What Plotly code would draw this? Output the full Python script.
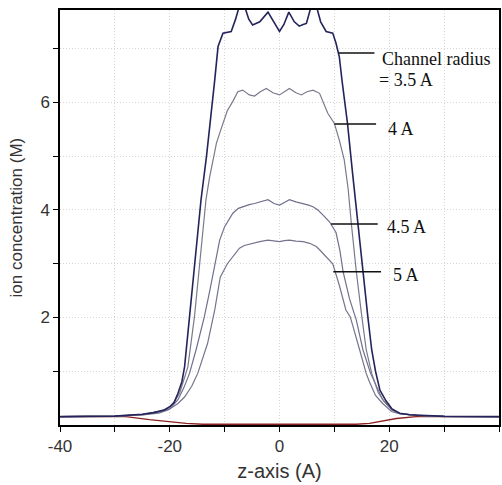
import plotly.graph_objects as go

# ---- data ----
x_35 = [-40, -30, -25, -23, -21, -20, -19.2, -18.5, -17.8, -17.3, -16.4, -15.5, -14.3, -13.3, -12.4,
        -11.8, -11.2, -10.3, -8.8, -8.0, -7.3, -6.85, -6.4, -5.6, -4.9, -4.3, -3.6, -2.1, -1.0, 0,
        0.8, 1.7, 2.7, 3.6, 4.3, 4.9, 5.8, 6.25, 6.7, 7.5, 8.5, 9.7, 10.3, 10.9, 11.4, 12.4, 13.3,
        14.3, 15.1, 16.1, 16.8, 17.5, 18.3, 19.4, 20.5, 21.9, 23.7, 27.5, 30, 40]
y_35 = [0.155, 0.165, 0.2, 0.23, 0.28, 0.34, 0.42, 0.59, 0.8, 1.08, 2.01, 2.94, 4.19, 5.0, 5.8,
        6.42, 7.04, 7.29, 7.32, 7.55, 7.8, 7.85, 7.8, 7.55, 7.44, 7.47, 7.5, 7.68, 7.48, 7.32,
        7.45, 7.68, 7.5, 7.42, 7.45, 7.47, 7.8, 7.85, 7.8, 7.5, 7.32, 7.29, 7.1, 6.85, 6.4, 5.6, 4.7,
        3.74, 2.85, 2.01, 1.4, 1.0, 0.65, 0.45, 0.3, 0.22, 0.19, 0.165, 0.16, 0.155]

x_40 = [-40, -30, -25, -22, -20.5, -19.5, -18.2, -17.5, -16.7, -15.5, -14.6, -13.4, -12.75, -11.5,
        -10.9, -9.5, -8.5, -7.6, -6.7, -5.5, -4.55, -3.5, -2.4, -1.2, 0, 0.9, 1.8, 3.0, 4.0, 5.0,
        6.1, 7.3, 8.8, 10.0, 10.9, 11.8, 12.5, 13.1, 14.0, 14.9, 15.8, 16.8, 18.0, 19.0, 20.5, 22,
        25, 30, 40]
y_40 = [0.155, 0.165, 0.2, 0.25, 0.3, 0.38, 0.59, 0.8, 1.08, 2.01, 2.94, 4.19, 4.6, 5.24,
        5.43, 5.85, 6.02, 6.2, 6.23, 6.14, 6.12, 6.2, 6.26, 6.18, 6.14, 6.2, 6.26, 6.18, 6.14, 6.2,
        6.23, 6.17, 5.8, 5.61, 5.3, 4.93, 4.4, 3.74, 2.85, 2.1, 1.4, 0.96, 0.6, 0.45, 0.28, 0.21,
        0.18, 0.16, 0.155]

x_45 = [-40, -30, -25, -22, -20, -18.5, -17.4, -16.4, -15.2, -13.7, -12.7, -11.8, -10.9, -10, -8.5,
        -7.5, -6.7, -5.5, -4.55, -3.2, -2.1, -1.0, 0, 0.9, 1.8, 3.0, 4.3, 5.3, 6.1, 7.0, 7.9, 9.1,
        10.3, 11.0, 11.6, 12.75, 14.0, 15.2, 16.6, 18.8, 20.5, 22, 25, 30, 40]
y_45 = [0.155, 0.165, 0.19, 0.24, 0.3, 0.47, 0.7, 0.96, 1.4, 2.01, 2.5, 2.94, 3.44, 3.69, 3.94,
        4.03, 4.06, 4.1, 4.12, 4.16, 4.19, 4.12, 4.09, 4.14, 4.19, 4.15, 4.12, 4.09, 4.06, 4.0, 3.91, 3.78,
        3.58, 3.25, 2.85, 2.35, 1.95, 1.4, 0.96, 0.47, 0.28, 0.21, 0.18, 0.16, 0.155]

x_50 = [-40, -30, -25, -22, -20.3, -19.5, -18.5, -17.3, -16, -14.9, -13.1, -11.8, -10.8, -9.5,
        -8.3, -7.3, -6.4, -5.0, -3.6, -2.1, -1.0, 0, 0.9, 1.8, 3.0, 4.3, 5.5, 6.7, 7.3, 8.5, 9.7,
        10.0, 10.9, 12.1, 12.9, 14.6, 15.8, 16.4, 17.5, 18.8, 20.4, 21.8, 25, 30, 40]
y_50 = [0.155, 0.165, 0.19, 0.22, 0.28, 0.33, 0.4, 0.52, 0.72, 0.96, 1.52, 2.14, 2.75, 3.0,
        3.17, 3.29, 3.34, 3.38, 3.41, 3.44, 3.42, 3.41, 3.43, 3.44, 3.42, 3.41, 3.38, 3.32, 3.26, 3.13, 3.0,
        2.9, 2.6, 2.14, 2.01, 1.4, 0.96, 0.8, 0.55, 0.4, 0.25, 0.21, 0.18, 0.16, 0.155]

x_red = [-40, -28, -23.7, -20, -17, -14, 0, 14, 16.4, 18.8, 21.3, 24.9, 40]
y_red = [0.155, 0.155, 0.1, 0.06, 0.03, 0.015, 0.01, 0.015, 0.03, 0.08, 0.12, 0.155, 0.155]

x_tickvals = [-40, -30, -20, -10, 0, 10, 20, 30, 40]
x_ticktext = ["-40", "", "-20", "", "0", "", "20", "", "40"]
y_tickvals = [1, 2, 3, 4, 5, 6, 7]
y_ticktext = ["", "2", "", "4", "", "6", ""]

labels = ["Channel radius", "= 3.5 A", "4 A", "4.5 A", "5 A"]
label_x = [18.95, 18.4, 19.9, 19.7, 20.95]
label_y = [6.81, 6.42, 5.51, 3.68, 2.79]
leader_x0 = [10.75, 10.0, 9.4, 9.8]
leader_x1 = [17.3, 17.6, 17.9, 18.5]
leader_y = [6.92, 5.6, 3.74, 2.85]

fig = go.Figure()
fig.add_trace(go.Scatter(x=x_red, y=y_red, mode="lines",
                         line=dict(color="#8b2020", width=1.4), showlegend=False))
for xs, ys, col, w in [(x_50, y_50, "#74748e", 1.2), (x_45, y_45, "#70708e", 1.2),
                       (x_40, y_40, "#7a7a8a", 1.2), (x_35, y_35, "#24245c", 1.6)]:
    fig.add_trace(go.Scatter(x=xs, y=ys, mode="lines", line=dict(color=col, width=w),
                             showlegend=False))

for x0, x1, yy in zip(leader_x0, leader_x1, leader_y):
    fig.add_shape(type="line", x0=x0, x1=x1, y0=yy, y1=yy, xref="x", yref="y",
                  line=dict(color="#111111", width=1.5))

for t, xx, yy in zip(labels, label_x, label_y):
    fig.add_annotation(x=xx, y=yy, text=t, showarrow=False, xanchor="left", yanchor="middle",
                       xshift=-3, font=dict(family="Liberation Serif", size=18, color="#111111"))

# y-axis title placed as rotated text left of the tick labels
fig.add_annotation(x=-0.098, y=0.5, xref="paper", yref="paper", text="ion concentration (M)",
                   textangle=-90, showarrow=False, xanchor="center", yanchor="middle",
                   font=dict(family="Liberation Sans", size=17, color="#333333"))

fig.update_layout(
    width=502, height=485,
    margin=dict(l=60, r=3, t=10, b=60, autoexpand=False),
    paper_bgcolor="white", plot_bgcolor="white",
    font=dict(family="Liberation Sans", size=17, color="#333333"),
)
fig.update_xaxes(range=[-40, 40], tickvals=x_tickvals, ticktext=x_ticktext,
                 showline=True, linecolor="black", linewidth=1.5, mirror=True,
                 ticks="outside", ticklen=5, tickcolor="black", automargin=False,
                 showgrid=True, gridcolor="#d6d6d6", griddash="1px,2px", gridwidth=1,
                 zeroline=False, title=dict(text="z-axis (A)", standoff=9),
                 tickfont=dict(size=17, color="#333333"))
fig.update_yaxes(range=[0, 7.72], tickvals=y_tickvals, ticktext=y_ticktext,
                 showline=True, linecolor="black", linewidth=1.5, mirror=True,
                 ticks="outside", ticklen=5, tickcolor="black", automargin=False,
                 showgrid=True, gridcolor="#d6d6d6", griddash="1px,2px", gridwidth=1,
                 zeroline=False,
                 tickfont=dict(size=17, color="#333333"))

fig.write_html("out.html", config={"displayModeBar": False},
               post_script="document.body.style.margin='0';document.body.style.overflow='hidden';")
